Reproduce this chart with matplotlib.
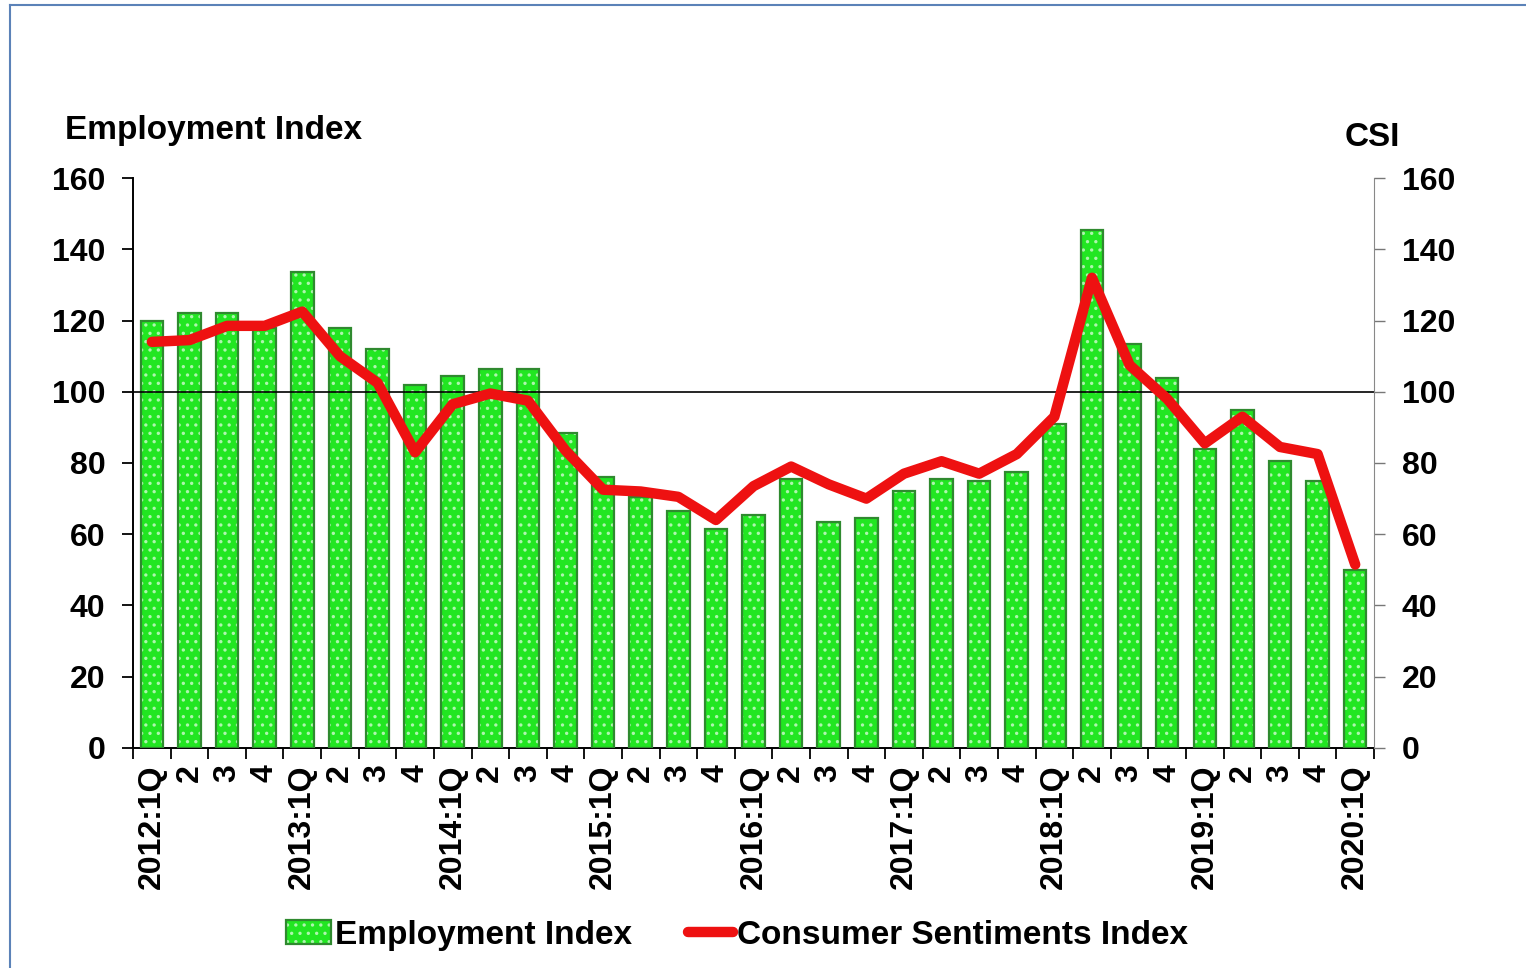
import matplotlib
matplotlib.use("Agg")
import matplotlib.pyplot as plt
from matplotlib.lines import Line2D
from matplotlib.ticker import FixedLocator, MultipleLocator

# quarters 2012:1Q .. 2020:1Q
quarters = []
for yr in range(2012, 2021):
    for q in range(1, 5):
        if yr == 2020 and q > 1:
            break
        quarters.append(f"{yr}:1Q" if q == 1 else str(q))

employment = [120, 122, 122, 118, 133.5, 118, 112, 102, 104.5, 106.5, 106.5, 88.5,
              76, 70.5, 66.5, 61.5, 65.5, 75.5, 63.5, 64.5, 72, 75.5, 75, 77.5,
              91, 145.5, 113.5, 104, 84, 95, 80.5, 75, 50]
csi = [114, 114.5, 118.5, 118.5, 122.5, 110, 102.5, 83, 96.5, 99.5, 97.5, 83.5,
       72.5, 72, 70.5, 64, 73.5, 79, 74, 70, 77, 80.5, 77, 82.5,
       93, 132, 107.5, 98, 85.5, 93, 84.5, 82.5, 51.5]

plt.rcParams['font.family'] = ['Liberation Sans', 'DejaVu Sans']
plt.rcParams['font.weight'] = 'bold'
plt.rcParams['hatch.linewidth'] = 1.2

fig = plt.figure(figsize=(15.26, 9.68), dpi=100)
ax = fig.add_axes([0.0872, 0.2273, 0.8132, 0.5888])
x = list(range(len(quarters)))

# bars: filled dotted layer + dark outline layer
b_fill = ax.bar(x, employment, 0.6, color='#22e622', edgecolor='#aef5ae',
                hatch='..', linewidth=0, zorder=2)
b_edge = ax.bar(x, employment, 0.6, fill=False, edgecolor='#2f8a2f',
                linewidth=1.6, zorder=3)
ax.axhline(100, color='black', linewidth=1.2, zorder=4)

ax.set_xlim(-0.5, len(quarters) - 0.5)
ax.set_ylim(0, 160)
ax.yaxis.set_major_locator(MultipleLocator(20))
ax.set_xticks(x)
ax.set_xticklabels(quarters, rotation=90, fontsize=23, fontweight='bold')
ax.xaxis.set_minor_locator(FixedLocator([i - 0.5 for i in range(len(quarters) + 1)]))
ax.tick_params(axis='x', which='major', length=0, pad=12)
ax.tick_params(axis='x', which='minor', length=8, width=1.3, direction='out')
ax.tick_params(axis='y', length=8, width=1.3, pad=12, labelsize=23)
ax.spines['top'].set_visible(False)
ax.spines['right'].set_visible(False)
ax.spines['left'].set_linewidth(1.4)
ax.spines['bottom'].set_linewidth(1.4)

ax2 = ax.twinx()
line, = ax2.plot(x, csi, color='#ee1111', linewidth=7.5, solid_joinstyle='round',
                 solid_capstyle='round', zorder=5)
ax2.set_ylim(0, 160)
ax2.yaxis.set_major_locator(MultipleLocator(20))
ax2.tick_params(axis='y', length=8, width=1.0, colors='#777777', pad=12, labelsize=23,
                labelcolor='black')
ax2.spines['top'].set_visible(False)
ax2.spines['left'].set_visible(False)
ax2.spines['bottom'].set_visible(False)
ax2.spines['right'].set_color('#888888')

fig.text(65 / 1526, 1 - 130 / 968, 'Employment Index', fontsize=24, fontweight='bold',
         ha='left', va='center')
fig.text(1372 / 1526, 1 - 138 / 968, 'CSI', fontsize=24, fontweight='bold',
         ha='center', va='center')

fig.legend([(b_fill, b_edge), line], ['Employment Index', 'Consumer Sentiments Index'],
           loc='center', bbox_to_anchor=(0.483, 0.034), ncol=2, frameon=False,
           fontsize=24, handlelength=1.35, handletextpad=0.1, columnspacing=1.7,
           borderaxespad=0)

# thin blue frame on top and left
fig.add_artist(Line2D([10 / 1526, 10 / 1526], [0, 1 - 5 / 968], color='#5b82b8', lw=1.5))
fig.add_artist(Line2D([10 / 1526, 1], [1 - 5 / 968, 1 - 5 / 968], color='#5b82b8', lw=1.5))

fig.savefig('out.png', dpi=100)
